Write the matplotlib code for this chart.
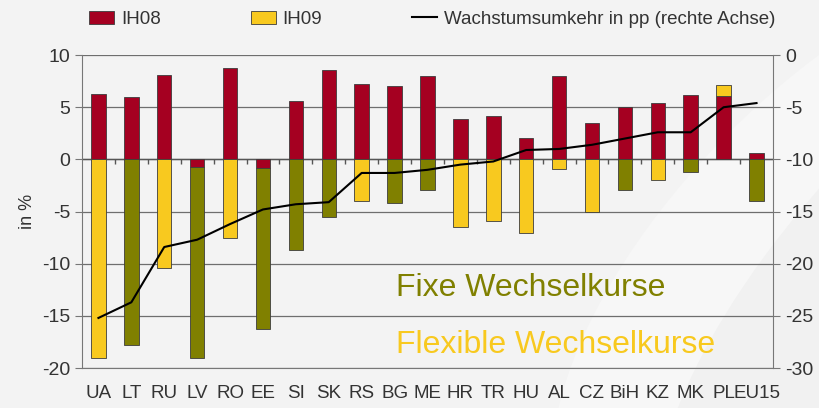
import numpy as np
import matplotlib.pyplot as plt
from matplotlib.lines import Line2D
from matplotlib.patches import Patch, Ellipse

plt.rcParams['font.family'] = ['Liberation Sans', 'DejaVu Sans']
plt.rcParams['axes.unicode_minus'] = False

laender = ['UA', 'LT', 'RU', 'LV', 'RO', 'EE', 'SI', 'SK', 'RS', 'BG', 'ME',
           'HR', 'TR', 'HU', 'AL', 'CZ', 'BiH', 'KZ', 'MK', 'PL', 'EU15']
ih08 = [6.3, 6.0, 8.05, -0.7, 8.75, -0.8, 5.6, 8.55, 7.2, 7.05, 7.95,
        3.9, 4.2, 2.05, 7.95, 3.5, 5.0, 5.4, 6.2, 6.05, 0.6]
ih09 = [-19.0, -17.8, -10.4, -18.3, -7.5, -15.5, -8.7, -5.5, -4.0, -4.15, -2.95,
        -6.45, -5.9, -7.05, -0.95, -5.0, -2.95, -2.0, -1.2, 1.05, -3.95]
fix = [False, True, False, True, False, True, True, True, False, True, True,
       False, False, False, False, False, True, False, True, False, True]
umkehr = [-25.2, -23.7, -18.4, -17.7, -16.2, -14.8, -14.3, -14.1, -11.3, -11.3, -11.0,
          -10.5, -10.2, -9.1, -9.0, -8.6, -8.0, -7.4, -7.4, -5.0, -4.6]
xlabels = ['UA', 'LT', 'RU', 'LV', 'RO', 'EE', 'SI', 'SK', 'RS', 'BG', 'ME',
           'HR', 'TR', 'HU', 'AL', 'CZ', 'BiH', 'KZ', 'MK', 'PL', 'EU15']

rot = '#A50021'
gelb = '#F8C91F'
oliv = '#808000'
rand = '#3c3c3c'

fig = plt.figure(figsize=(8.19, 4.08), dpi=100, facecolor='#F3F3F3')

# heller Bogen im Hintergrund
bg = fig.add_axes([0, 0, 1, 1], zorder=-10)
bg.axis('off')
bg.set_xlim(0, 1)
bg.set_ylim(0, 1)
bg.add_patch(Ellipse((1.05, 0.35), 0.55, 1.6, angle=-20, facecolor='#F7F7F7',
                     edgecolor='none'))
bg.add_patch(Ellipse((1.12, 0.30), 0.40, 1.5, angle=-20, facecolor='#F1F1F1',
                     edgecolor='none'))

ax = fig.add_axes([0.1001, 0.098, 0.8437, 0.767])
ax.set_facecolor('none')

x = np.arange(len(laender))
a = np.array(ih08)
b = np.array(ih09)
# Excel-Stapel: positive und negative Werte getrennt gestapelt
basis = np.where(np.sign(b) == np.sign(a), a, 0)
farben = [oliv if f else gelb for f in fix]

ax.bar(x, a, width=0.44, color=rot, edgecolor=rand, linewidth=0.6, zorder=3)
ax.bar(x, b, width=0.44, bottom=basis, color=farben, edgecolor=rand, linewidth=0.6, zorder=3)

ax.set_xlim(-0.5, len(laender) - 0.5)
ax.set_ylim(-20, 10)
ax.set_yticks(np.arange(-20, 11, 5))
ax.yaxis.grid(True, color='#6e6e6e', linewidth=0.9, zorder=0)
ax.set_axisbelow(True)
ax.axhline(0, color='#555555', linewidth=1.0, zorder=2)
ax.vlines(x[:-1] + 0.5, -0.45, 0, color='#555555', linewidth=1.0, zorder=2)

ax.set_xticks(x)
ax.set_xticklabels(xlabels, fontsize=13.5, color='#333333')
ax.tick_params(axis='x', length=0, pad=12)
ax.tick_params(axis='y', labelsize=14, colors='#333333', length=5, color='#777777')
for s in ['left', 'right', 'bottom']:
    ax.spines[s].set_color('#777777')
ax.spines['top'].set_visible(False)
ax.set_ylabel('in %', fontsize=13, color='#333333', labelpad=4)

ax2 = ax.twinx()
ax2.plot(x, umkehr, color='black', linewidth=1.5, zorder=4)
ax2.set_ylim(-30, 0)
ax2.set_yticks(np.arange(-30, 1, 5))
ax2.tick_params(axis='y', labelsize=14, colors='#333333', length=5, color='#777777')
for s in ['left', 'right', 'bottom', 'top']:
    ax2.spines[s].set_visible(False)

ax.text(0.454, 0.23, 'Fixe Wechselkurse', transform=ax.transAxes,
        fontsize=23, color=oliv, zorder=5)
ax.text(0.454, 0.047, 'Flexible Wechselkurse', transform=ax.transAxes,
        fontsize=23, color=gelb, zorder=5)

handles = [Patch(facecolor=rot, edgecolor=rand, linewidth=0.6),
           Patch(facecolor=gelb, edgecolor=rand, linewidth=0.6),
           Line2D([], [], color='black', linewidth=1.5)]
fig.legend(handles, ['IH08', 'IH09', 'Wachstumsumkehr in pp (rechte Achse)'],
           loc='upper left', bbox_to_anchor=(0.088, 1.015), ncol=3, frameon=False,
           fontsize=13.5, columnspacing=4.8, handlelength=1.33, handleheight=0.75,
           handletextpad=0.37, labelcolor='#333333')

fig.savefig('out.png', dpi=100, facecolor=fig.get_facecolor())
